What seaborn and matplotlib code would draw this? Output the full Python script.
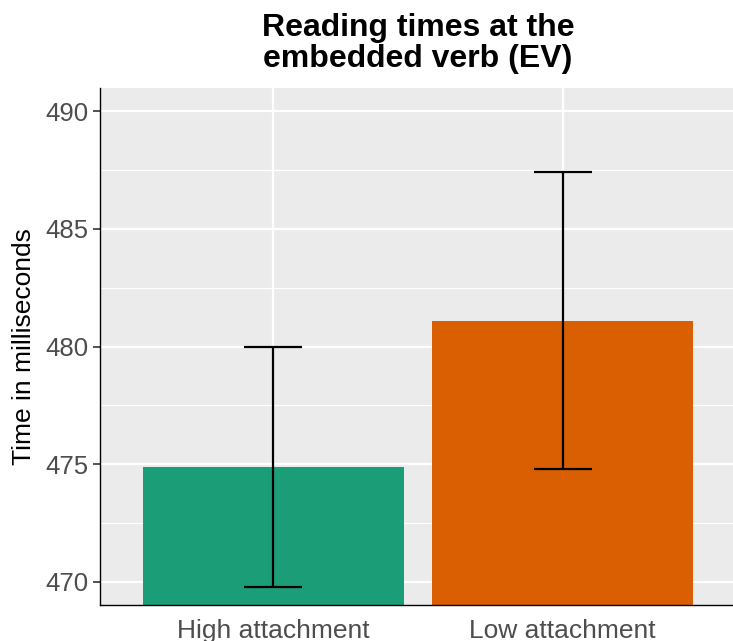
import matplotlib
matplotlib.use("Agg")
import matplotlib.pyplot as plt
from matplotlib.ticker import MultipleLocator
import seaborn as sns
import pandas as pd

# Mean reading times and error bar limits per attachment condition
conditions = ["High attachment", "Low attachment"]
mean_rt = [474.9, 481.1]
ci_lower = [469.8, 474.8]
ci_upper = [480.0, 487.4]
bar_colors = ["#1B9E77", "#D95F02"]

df = pd.DataFrame({"condition": conditions, "rt": mean_rt})

sns.set_theme(style="darkgrid")
plt.rcParams["font.family"] = ["Liberation Sans", "DejaVu Sans"]

fig = plt.figure(figsize=(7.33, 6.41), dpi=100)
ax = fig.add_axes([100 / 733, 36 / 641, 636 / 733, 517 / 641])
ax.set_facecolor("#EBEBEB")

sns.barplot(data=df, x="condition", y="rt", hue="condition",
            palette=bar_colors, width=0.9, saturation=1, legend=False,
            errorbar=None, ax=ax, zorder=2, linewidth=0)

for i, (m, lo, hi) in enumerate(zip(mean_rt, ci_lower, ci_upper)):
    ax.errorbar(i, m, yerr=[[m - lo], [hi - m]], fmt="none", ecolor="black",
                elinewidth=1.6, capsize=21, capthick=1.6, zorder=3)

ax.set_ylim(469.02, 490.98)
ax.set_xlim(-0.6, 1.6)
ax.yaxis.set_major_locator(MultipleLocator(5))
ax.yaxis.set_minor_locator(MultipleLocator(2.5))

ax.grid(which="major", color="white", linewidth=1.6, zorder=0)
ax.grid(which="minor", axis="y", color="white", linewidth=0.8, zorder=0)
ax.set_axisbelow(True)

for side in ["top", "right"]:
    ax.spines[side].set_visible(False)
for side in ["left", "bottom"]:
    ax.spines[side].set_visible(True)
    ax.spines[side].set_color("black")
    ax.spines[side].set_linewidth(1.0)

ax.tick_params(axis="y", which="major", length=5, width=1.2, color="#333333",
               labelsize=18.5, labelcolor="#4D4D4D", pad=3, left=True)
ax.tick_params(axis="y", which="minor", length=0)
ax.tick_params(axis="x", length=0, labelsize=19, labelcolor="#4D4D4D", pad=10)

ax.set_xlabel("")
ax.set_ylabel("Time in milliseconds", fontsize=19, color="black", labelpad=7)
ax.set_title("Reading times at the\nembedded verb (EV)", fontsize=23,
             fontweight="bold", color="black", pad=15, linespacing=1.05)

fig.savefig("out.png", dpi=100)
